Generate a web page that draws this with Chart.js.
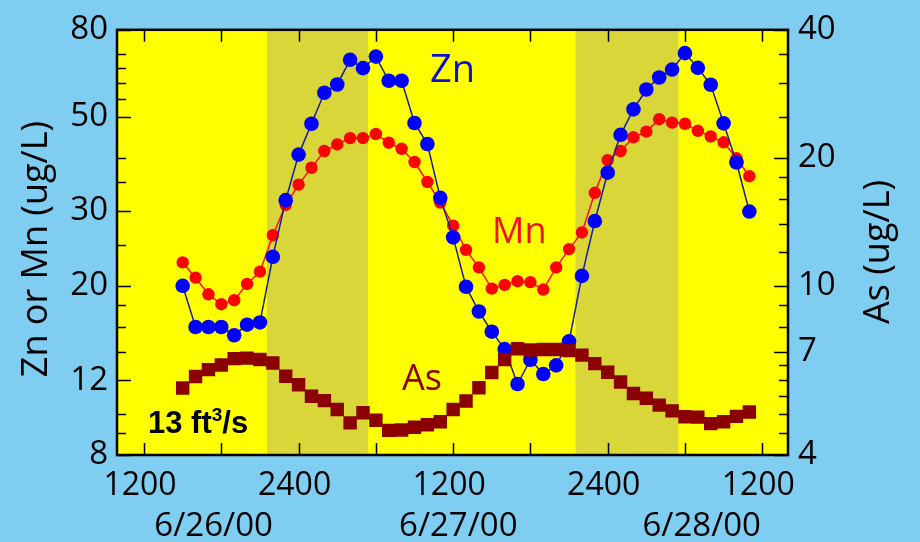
<!DOCTYPE html>
<html><head><meta charset="utf-8">
<script src="https://cdn.jsdelivr.net/npm/chart.js@4/dist/chart.umd.min.js"></script>
<style>html,body{margin:0;padding:0;background:#7fcdf1;} #wrap{width:920px;height:542px;}</style>
</head><body><div id="wrap"><canvas id="c" width="920" height="542"></canvas></div>
<script>
// hours since 00:00 on 6/26/00
const hours = [15,16,17,18,19,20,21,22,23,24,25,26,27,28,29,30,31,32,33,34,35,36,37,38,39,40,41,42,43,44,45,46,47,48,49,50,51,52,53,54,55,56,57,58,59];
const zn = [20,16,16,16,15.3,16.2,16.4,23.4,31.8,40.7,48.1,56.9,59.5,68.0,65.0,69.2,60.7,60.7,48.3,43.1,32.2,26.0,19.9,17.4,15.6,14.2,11.75,13.4,12.4,13.0,14.8,21.1,28.4,36.9,45.3,52.0,57.9,61.8,64.5,70.5,65.1,59.4,48.2,39.0,29.9];
const mn = [22.7,20.9,19.1,18.1,18.5,20.2,21.6,26.3,31,34.6,37.9,41.5,43.0,44.5,44.5,45.5,43.4,42.0,39.1,35.1,31.4,27.7,24.3,22.1,19.7,20.1,20.5,20.4,19.6,22.1,24.4,26.7,33.1,39.5,41.5,44.7,46.1,49.3,48.4,48.1,46.3,44.9,43.5,39.9,36.2];
const as = [5.75,6.12,6.35,6.51,6.74,6.76,6.71,6.58,6.13,5.85,5.50,5.37,5.12,4.76,5.03,4.83,4.57,4.58,4.65,4.71,4.79,5.12,5.36,5.76,6.25,6.71,7.11,7.06,7.08,7.08,7.04,6.87,6.56,6.26,5.94,5.58,5.44,5.24,5.08,4.92,4.91,4.74,4.79,4.93,5.05];

const xTickValues = [12,18,24,30,36,42,48,54,60];
const xTickLabels = {12:'1200',24:'2400',36:'1200',48:'2400',60:'1200'};
const dateLabels = ['6/26/00','6/27/00','6/28/00'];
const datePositions = [17.4,36.4,55.3];
const leftTicks = [8,9,10,12,14,16,18,20,25,30,35,40,50,55,60,65,70,80];
const leftLabels = [8,12,20,30,50,80];
const rightTicks = [4,4.5,5,5.5,6,6.5,7,8,9,10,12,14,16,18,20,25,30,35,40];
const rightLabels = [4,7,10,20,40];
const nightBands = [[21.55,29.4],[45.5,53.5]];

const FONT = "'Open Sans'";

const decor = {
  id: 'decor',
  beforeDraw(chart) {
    const {ctx, chartArea: a, scales: {x}} = chart;
    ctx.save();
    ctx.fillStyle = '#7fcdf1';
    ctx.fillRect(0, 0, chart.width, chart.height);
    ctx.fillStyle = '#ffff00';
    ctx.fillRect(a.left, a.top, a.right - a.left, a.bottom - a.top);
    ctx.fillStyle = '#d9d63a';
    nightBands.forEach(([s, e]) => {
      const x0 = x.getPixelForValue(s), x1 = x.getPixelForValue(e);
      ctx.fillRect(x0, a.top, x1 - x0, a.bottom - a.top);
    });
    ctx.restore();
  },
  afterDraw(chart) {
    const {ctx, chartArea: a, scales: {x, yL, yR}} = chart;
    ctx.save();
    ctx.strokeStyle = '#000';
    ctx.lineWidth = 1.5;
    ctx.beginPath();
    xTickValues.forEach(v => {
      const px = Math.round(x.getPixelForValue(v)) + 0.5;
      ctx.moveTo(px, a.bottom); ctx.lineTo(px, a.bottom - 12);
      ctx.moveTo(px, a.top); ctx.lineTo(px, a.top + 12);
    });
    leftTicks.forEach(v => {
      const py = Math.round(yL.getPixelForValue(v)) + 0.5;
      const len = leftLabels.includes(v) ? 14 : 9;
      ctx.moveTo(a.left, py); ctx.lineTo(a.left + len, py);
    });
    rightTicks.forEach(v => {
      const py = Math.round(yR.getPixelForValue(v)) + 0.5;
      const len = rightLabels.includes(v) ? 14 : 9;
      ctx.moveTo(a.right, py); ctx.lineTo(a.right - len, py);
    });
    ctx.stroke();
    ctx.lineWidth = 2.5;
    ctx.strokeRect(a.left, a.top, a.right - a.left, a.bottom - a.top);

    // dates
    ctx.fillStyle = '#000';
    ctx.font = `33px ${FONT}`;
    ctx.textAlign = 'center';
    ctx.textBaseline = 'alphabetic';
    dateLabels.forEach((t, i) => ctx.fillText(t, x.getPixelForValue(datePositions[i]), 536));

    // axis titles
    ctx.font = `36px ${FONT}`;
    ctx.textBaseline = 'middle';
    ctx.save(); ctx.translate(37, 249); ctx.rotate(-Math.PI / 2);
    ctx.fillText('Zn or Mn (ug/L)', 0, 0); ctx.restore();
    ctx.save(); ctx.translate(879, 252); ctx.rotate(-Math.PI / 2);
    ctx.fillText('As (ug/L)', 0, 0); ctx.restore();

    // series labels
    ctx.textAlign = 'left';
    ctx.textBaseline = 'alphabetic';
    ctx.font = `38px ${FONT}`;
    ctx.fillStyle = '#1010d0'; ctx.fillText('Zn', 430, 82);
    ctx.font = `36px ${FONT}`;
    ctx.fillStyle = '#f01010'; ctx.fillText('Mn', 492, 243);
    ctx.fillStyle = '#8b0000'; ctx.fillText('As', 402, 390);

    // flow note
    ctx.fillStyle = '#000';
    ctx.font = `bold 31px 'Liberation Sans'`;
    let tx = 148;
    ctx.fillText('13 ft', tx, 433); tx += ctx.measureText('13 ft').width;
    ctx.font = `bold 19px 'Liberation Sans'`;
    ctx.fillText('3', tx, 421); tx += ctx.measureText('3').width;
    ctx.font = `bold 31px 'Liberation Sans'`;
    ctx.fillText('/s', tx, 433);
    ctx.restore();
  }
};

const toPts = arr => hours.map((h, i) => ({x: h, y: arr[i]}));

new Chart(document.getElementById('c'), {
  type: 'line',
  data: {
    datasets: [
      {label: 'As', data: toPts(as), yAxisID: 'yR', order: 0, showLine: false,
        pointStyle: 'rect', pointRadius: 9.5, pointHoverRadius: 9.5, pointBackgroundColor: '#8b0000', pointBorderWidth: 0, borderColor: '#8b0000'},
      {label: 'Zn', data: toPts(zn), yAxisID: 'yL', order: 1, borderColor: '#1a1a9a', borderWidth: 1.5,
        pointRadius: 7.3, pointHoverRadius: 7.3, pointBackgroundColor: '#0000ff', pointBorderWidth: 0},
      {label: 'Mn', data: toPts(mn), yAxisID: 'yL', order: 2, borderColor: '#ff1010', borderWidth: 1.5,
        pointRadius: 6.2, pointHoverRadius: 6.2, pointBackgroundColor: '#ff0000', pointBorderWidth: 0}
    ]
  },
  options: {
    responsive: false, animation: false, devicePixelRatio: 1,
    layout: {padding: {top: 20, left: 0, right: 0, bottom: 0}},
    plugins: {legend: {display: false}, tooltip: {enabled: false}},
    scales: {
      x: {type: 'linear', position: 'bottom', min: 9.9, max: 62,
        afterBuildTicks: s => { s.ticks = xTickValues.map(v => ({value: v})); },
        afterFit: s => { s.height = 87; },
        grid: {display: false, drawTicks: false}, border: {display: false},
        ticks: {autoSkip: false, maxRotation: 0, padding: 12, labelOffset: -4, color: '#000',
          font: {family: FONT, size: 32}, callback: v => xTickLabels[v] || ''}},
      yL: {type: 'logarithmic', position: 'left', min: 8, max: 80,
        afterBuildTicks: s => { s.ticks = leftTicks.map(v => ({value: v})); },
        afterFit: s => { s.width = 117; },
        grid: {display: false, drawTicks: false}, border: {display: false},
        ticks: {autoSkip: false, padding: 9, color: '#000', font: {family: FONT, size: 33},
          callback: v => leftLabels.includes(v) ? String(v) : ''}},
      yR: {type: 'logarithmic', position: 'right', min: 4, max: 40,
        afterBuildTicks: s => { s.ticks = rightTicks.map(v => ({value: v})); },
        afterFit: s => { s.width = 132; },
        grid: {display: false, drawTicks: false}, border: {display: false},
        ticks: {autoSkip: false, padding: 10, color: '#000', font: {family: FONT, size: 33},
          callback: v => rightLabels.includes(v) ? String(v) : ''}}
    }
  },
  plugins: [decor]
});
</script></body></html>
